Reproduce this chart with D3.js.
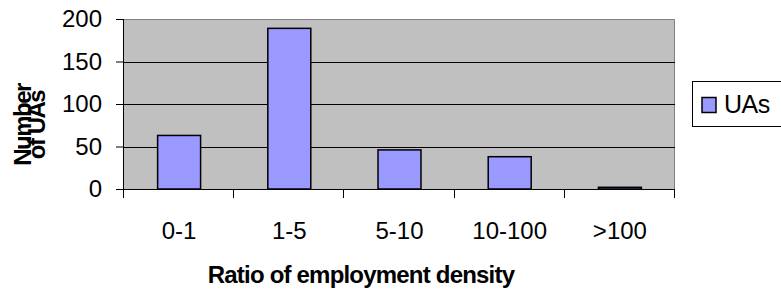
<!DOCTYPE html>
<html lang="en">
<head>
<meta charset="utf-8">
<title>Ratio of employment density</title>
<script src="https://d3js.org/d3.v7.min.js"></script>
<style>
body { margin: 0; background: #fff; }
text { font-family: "Liberation Sans", Arial, sans-serif; }
</style>
</head>
<body>
<div id="chart"></div>
<script>

// data
var categories = ["0-1", "1-5", "5-10", "10-100", ">100"];
var uas = [63, 189, 46, 38, 2];
var yTicks = [0, 50, 100, 150, 200];

var W = 781, H = 303;
var margin = {top: 19, right: 106, bottom: 114, left: 124},
  width = W - margin.left - margin.right,
  height = H - margin.top - margin.bottom;

var svg = d3.select("#chart")
  .append("svg")
  .attr("width", W)
  .attr("height", H);

var g = svg.append("g")
  .attr("transform", "translate(" + margin.left + "," + margin.top + ")");

var x = d3.scaleBand()
  .domain(categories)
  .range([0, width])
  .paddingInner(0.61)
  .paddingOuter(0.305);

var y = d3.scaleLinear()
  .domain([0, 200])
  .range([height, 0]);

// plot background
g.append("rect")
  .attr("width", width)
  .attr("height", height)
  .style("fill", "#c0c0c0");

// top/right frame in grey
g.append("path")
  .attr("d", "M0,0.5H" + (width - 0.5) + "V" + height)
  .style("fill", "none")
  .style("stroke", "#808080")
  .style("stroke-width", 1);

// gridlines
g.selectAll(".grid")
  .data(yTicks.filter(function(d){ return d > 0 && d < 200; }))
  .enter()
  .append("line")
    .attr("x1", 0)
    .attr("x2", width)
    .attr("y1", function(d){ return Math.round(y(d)) + 0.5; })
    .attr("y2", function(d){ return Math.round(y(d)) + 0.5; })
    .style("stroke", "#000")
    .style("stroke-width", 1);

// bars
g.selectAll(".bar")
  .data(uas)
  .enter()
  .append("rect")
    .attr("x", function(d,i){ return x(categories[i]); })
    .attr("width", x.bandwidth())
    .attr("y", function(d){ return y(d); })
    .attr("height", function(d){ return height - y(d); })
    .style("fill", "#9999ff")
    .style("stroke", "#000")
    .style("stroke-width", 1.5);

// y axis
var yAxis = g.append("g")
  .call(d3.axisLeft(y).tickValues(yTicks).tickSize(8).tickPadding(14));
yAxis.select(".domain").attr("d", "M-0.5,0V" + height);
yAxis.selectAll("text")
  .style("font-size", "24px")
  .style("fill", "#000");

// x axis: ticks at band edges
var edges = d3.range(categories.length + 1).map(function(i){ return i * width / categories.length; });
var xAxis = g.append("g").attr("transform", "translate(0," + height + ")");
xAxis.append("line")
  .attr("x1", -8).attr("x2", width)
  .attr("y1", 0.5).attr("y2", 0.5)
  .style("stroke", "#000");
xAxis.selectAll(".tick")
  .data(edges)
  .enter()
  .append("line")
    .attr("x1", function(d){ return Math.round(d) - 0.5; })
    .attr("x2", function(d){ return Math.round(d) - 0.5; })
    .attr("y1", 0)
    .attr("y2", 9)
    .style("stroke", "#000");
xAxis.selectAll(".lbl")
  .data(categories)
  .enter()
  .append("text")
    .attr("x", function(d){ return x(d) + x.bandwidth() / 2; })
    .attr("y", 50)
    .attr("text-anchor", "middle")
    .style("font-size", "24px")
    .text(function(d){ return d; });

// x title
svg.append("text")
  .attr("x", 361)
  .attr("y", 283)
  .attr("text-anchor", "middle")
  .style("font-size", "24px")
  .style("font-weight", "bold")
  .style("letter-spacing", "-0.8px")
  .text("Ratio of employment density");

// y title, two tight lines
var yt = svg.append("text")
  .attr("transform", "translate(31,125) rotate(-90)")
  .attr("text-anchor", "middle")
  .style("font-size", "24px")
  .style("font-weight", "bold")
  .style("letter-spacing", "-1.5px");
yt.append("tspan").attr("x", 0).attr("y", 0).text("Number");
yt.append("tspan").attr("x", 0).attr("y", 14).text("of UAs");

// legend
var lg = svg.append("g").attr("transform", "translate(692,81)");
lg.append("rect")
  .attr("x", 0.5).attr("y", 0.5)
  .attr("width", 100).attr("height", 45)
  .style("fill", "#fff")
  .style("stroke", "#000");
lg.append("rect")
  .attr("x", 10).attr("y", 16.5)
  .attr("width", 14).attr("height", 15)
  .style("fill", "#9999ff")
  .style("stroke", "#000")
  .style("stroke-width", 1.5);
lg.append("text")
  .attr("x", 32).attr("y", 32)
  .style("font-size", "25px")
  .style("letter-spacing", "-0.5px")
  .text("UAs");

</script>
</body>
</html>
